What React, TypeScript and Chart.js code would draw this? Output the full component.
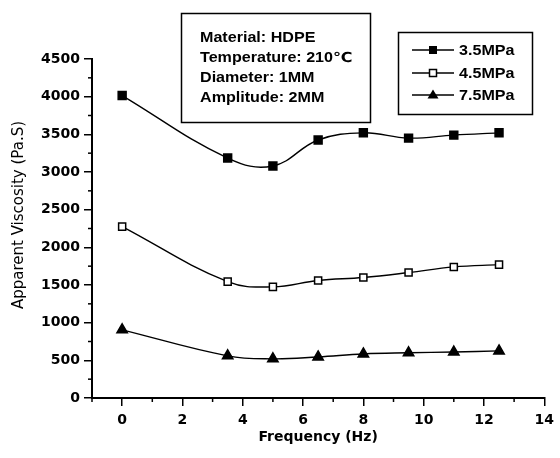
import React, { useEffect, useRef } from "react";
import { Chart, registerables } from "chart.js";

Chart.register(...registerables);

const frequency = [0, 3.5, 5, 6.5, 8, 9.5, 11, 12.5];
const visc35 = [4015, 3185, 3080, 3425, 3520, 3450, 3490, 3520];
const visc45 = [2275, 1545, 1475, 1560, 1600, 1665, 1740, 1770];
const visc75 = [905, 560, 520, 545, 585, 600, 610, 625];

const seriesLabels = ["3.5MPa", "4.5MPa", "7.5MPa"];
const xTickValues = [0, 2, 4, 6, 8, 10, 12, 14];
const xMinorTicks = [-1, 1, 3, 5, 7, 9, 11, 13];
const yMinorTicks = [250, 750, 1250, 1750, 2250, 2750, 3250, 3750, 4250];
const infoLines = ["Material: HDPE", "Temperature: 210\u2103", "Diameter: 1MM", "Amplitude: 2MM"];
const xTitle = "Frequency (Hz)";
const yTitle = "Apparent Viscosity (Pa.S)";

const FONT = '"DejaVu Sans", "Liberation Sans", Arial, sans-serif';
const ARIAL = '"Liberation Sans", Arial, "DejaVu Sans", sans-serif';

function drawMarker(ctx: CanvasRenderingContext2D, kind: string, x: number, y: number) {
  ctx.save();
  ctx.lineWidth = 1.5;
  ctx.strokeStyle = "#000";
  if (kind === "filled") {
    ctx.fillStyle = "#000";
    ctx.fillRect(x - 4, y - 4, 8, 8);
  } else if (kind === "open") {
    ctx.fillStyle = "#fff";
    ctx.fillRect(x - 3.5, y - 3.5, 7, 7);
    ctx.strokeRect(x - 3.5, y - 3.5, 7, 7);
  } else {
    ctx.fillStyle = "#000";
    ctx.beginPath();
    ctx.moveTo(x, y - 5.5);
    ctx.lineTo(x + 5.5, y + 3.5);
    ctx.lineTo(x - 5.5, y + 3.5);
    ctx.closePath();
    ctx.fill();
  }
  ctx.restore();
}

const extrasPlugin = {
  id: "extras",
  afterDraw(chart: any) {
    const ctx: CanvasRenderingContext2D = chart.ctx;
    const xs = chart.scales.x;
    const ys = chart.scales.y;
    ctx.save();
    ctx.strokeStyle = "#000";
    ctx.lineWidth = 1.5;
    xMinorTicks.forEach((v) => {
      const px = xs.getPixelForValue(v);
      ctx.beginPath();
      ctx.moveTo(px, ys.bottom);
      ctx.lineTo(px, ys.bottom + 4);
      ctx.stroke();
    });
    yMinorTicks.forEach((v) => {
      const py = ys.getPixelForValue(v);
      ctx.beginPath();
      ctx.moveTo(xs.left, py);
      ctx.lineTo(xs.left - 4, py);
      ctx.stroke();
    });

    // y title
    ctx.save();
    ctx.translate(19, 215);
    ctx.rotate(-Math.PI / 2);
    ctx.font = `15px ${FONT}`;
    ctx.fillStyle = "#000";
    ctx.textAlign = "center";
    ctx.textBaseline = "middle";
    ctx.fillText(yTitle, 0, 0);
    ctx.restore();

    // info box
    ctx.lineWidth = 1.5;
    ctx.strokeRect(181.5, 13.5, 189, 109);
    ctx.fillStyle = "#000";
    ctx.textAlign = "left";
    ctx.textBaseline = "middle";
    infoLines.forEach((t, i) => {
      ctx.save();
      ctx.translate(200, 38 + i * 20);
      ctx.scale(1.15, 1);
      ctx.font = `bold 14px ${ARIAL}`;
      ctx.fillText(t, 0, 0);
      ctx.restore();
    });

    // legend box
    ctx.strokeRect(398.5, 32.5, 134, 82);
    const kinds = ["filled", "open", "tri"];
    const rows = [50, 73, 95];
    seriesLabels.forEach((lab, i) => {
      const y = rows[i];
      ctx.lineWidth = 1.5;
      ctx.beginPath();
      ctx.moveTo(412, y);
      ctx.lineTo(454, y);
      ctx.stroke();
      drawMarker(ctx, kinds[i], 433, y);
      ctx.save();
      ctx.translate(459, y + 1);
      ctx.scale(1.15, 1);
      ctx.font = `bold 14px ${ARIAL}`;
      ctx.fillStyle = "#000";
      ctx.fillText(lab, 0, 0);
      ctx.restore();
    });
    ctx.restore();
  },
};

export default function App() {
  const ref = useRef<HTMLCanvasElement | null>(null);
  useEffect(() => {
    if (!ref.current) return;
    const mk = (vals: number[]) => frequency.map((x, i) => ({ x, y: vals[i] }));
    const common = {
      borderColor: "#000",
      borderWidth: 1.4,
      tension: 0.4,
      pointRadius: 5.6,
      pointBorderColor: "#000",
      pointBorderWidth: 1.5,
    };
    const chart = new Chart(ref.current, {
      type: "line",
      data: {
        datasets: [
          { ...common, label: seriesLabels[0], data: mk(visc35), pointStyle: "rect", pointBackgroundColor: "#000" },
          { ...common, label: seriesLabels[1], data: mk(visc45), pointStyle: "rect", pointRadius: 5, pointBackgroundColor: "#fff" },
          { ...common, label: seriesLabels[2], data: mk(visc75), pointStyle: "triangle", pointRadius: 6, pointBackgroundColor: "#000" },
        ],
      },
      options: {
        animation: false,
        responsive: false,
        devicePixelRatio: 1,
        layout: { padding: { left: 0, top: 59, right: 8, bottom: 0 } },
        plugins: { legend: { display: false }, tooltip: { enabled: false } },
        scales: {
          x: {
            type: "linear",
            min: -1,
            max: 14,
            afterBuildTicks: (s: any) => {
              s.ticks = xTickValues.map((v) => ({ value: v }));
            },
            afterFit: (s: any) => {
              s.height = 60;
            },
            border: { display: true, color: "#000", width: 2 },
            grid: { drawOnChartArea: false, drawTicks: true, tickLength: 8, color: "#000", lineWidth: 1.5 },
            ticks: { color: "#000", font: { family: FONT, size: 14, weight: "bold" }, padding: 6, maxRotation: 0, callback: (v: any) => String(v) },
            title: { display: true, text: xTitle, color: "#000", font: { family: FONT, size: 14, weight: "bold" }, padding: { top: 0, bottom: 12 } },
          },
          y: {
            type: "linear",
            min: 0,
            max: 4500,
            ticks: { stepSize: 500, color: "#000", font: { family: FONT, size: 14, weight: "bold" }, padding: 4, callback: (v: any) => String(v) },
            afterFit: (s: any) => {
              s.width = 92;
            },
            border: { display: true, color: "#000", width: 2 },
            grid: { drawOnChartArea: false, drawTicks: true, tickLength: 8, color: "#000", lineWidth: 1.5 },
          },
        },
      },
      plugins: [extrasPlugin],
    } as any);
    return () => chart.destroy();
  }, []);
  return (
    <div style={{ position: "absolute", left: 0, top: 0, width: 560, height: 458, background: "#fff" }}>
      <canvas ref={ref} width={560} height={458} />
    </div>
  );
}
